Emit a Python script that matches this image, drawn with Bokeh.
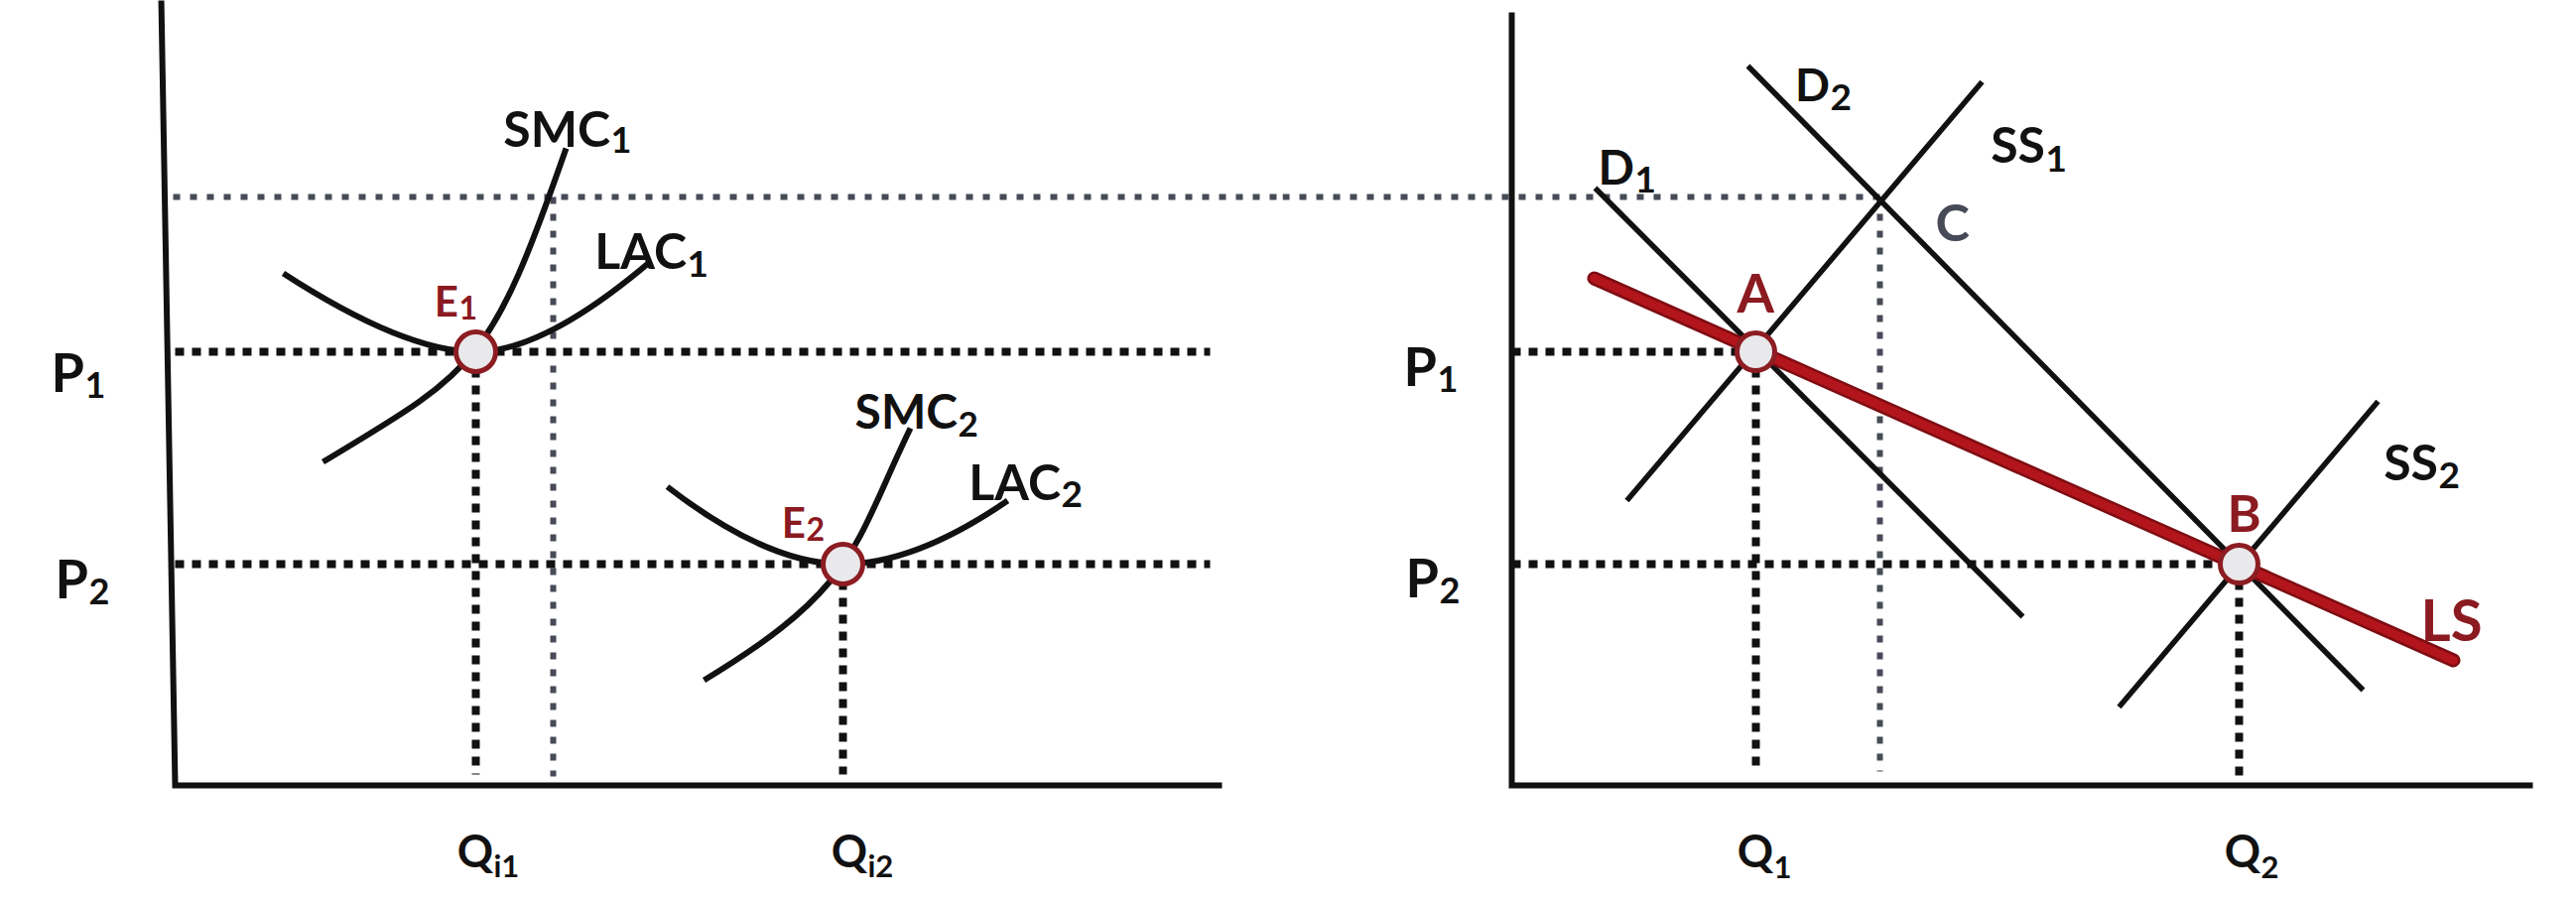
from bokeh.plotting import figure
from bokeh.layouts import row
from bokeh.models import Range1d
from bokeh.core.properties import value
from bokeh.embed import file_html
from bokeh.resources import INLINE

FONT = "Lato"
BLACK = "#111111"
RED = "#8b1a21"
GRAY = "#474b57"

# ---------------- Left panel: the firm ----------------
P1 = 4.37
P2 = 2.23
PC = 5.93          # price at point C (short-run)
QI1 = 3.03
QI2 = 6.73
QI_C = 3.81        # firm output at price PC on SMC1

# SMC curves (cubic Bezier: start, control 1, control 2, end)
smc_x0 = [1.49, 5.33]
smc_y0 = [3.26, 1.06]
smc_cx0 = [3.04, 6.87]
smc_cy0 = [4.19, 1.99]
smc_cx1 = [3.18, 6.83]
smc_cy1 = [4.24, 2.40]
smc_x1 = [3.94, 7.41]
smc_y1 = [6.42, 3.60]

# LAC curves (two quadratic branches meeting at the minimum point)
lac_min_x = [QI1, QI2]
lac_min_y = [P1, P2]
lac_left_x = [1.09, 4.96]
lac_left_y = [5.16, 3.01]
lac_left_cx = [2.31, 5.97]
lac_right_x = [4.79, 8.39]
lac_right_y = [5.28, 2.87]
lac_right_cx = [3.72, 7.46]

# ---------------- Right panel: the industry ----------------
Q1 = 2.46
Q2 = 7.33
QC = 3.71
d1_x = [0.84, 5.15]
d1_y = [6.02, 1.70]
d2_x = [2.38, 8.58]
d2_y = [7.25, 0.96]
ss1_x = [1.16, 4.74]
ss1_y = [2.87, 7.09]
ss2_x = [6.12, 8.73]
ss2_y = [0.79, 3.87]
ls_x = [0.83, 9.49]
ls_y = [5.11, 1.26]

# labels with subscripts: (main, sub, junction x, main baseline, sub baseline,
#                          main size px, sub size px, colour)
left_labels = [
    ("P", "1", -0.91, 4.17, 4.04, 54, 36, BLACK),
    ("P", "2", -0.87, 2.09, 1.96, 54, 36, BLACK),
    ("Q", "i1", 3.21, -0.65, -0.80, 45, 31, BLACK),
    ("Q", "i2", 6.98, -0.65, -0.80, 45, 31, BLACK),
    ("SMC", "1", 4.39, 6.63, 6.51, 50, 36, BLACK),
    ("LAC", "1", 5.16, 5.40, 5.26, 50, 37, BLACK),
    ("SMC", "2", 7.89, 3.78, 3.64, 48, 35, BLACK),
    ("LAC", "2", 8.93, 3.07, 2.94, 50, 37, BLACK),
    ("E", "1", 2.86, 4.89, 4.82, 42, 32, RED),
    ("E", "2", 6.36, 2.66, 2.59, 42, 32, RED),
]
right_labels = [
    ("P", "1", -0.75, 4.23, 4.10, 54, 36, BLACK),
    ("P", "2", -0.73, 2.10, 1.97, 54, 36, BLACK),
    ("Q", "1", 2.64, -0.65, -0.82, 45, 31, BLACK),
    ("Q", "2", 7.55, -0.65, -0.82, 45, 31, BLACK),
    ("D", "1", 1.24, 6.24, 6.11, 48, 37, BLACK),
    ("D", "2", 3.21, 7.07, 6.94, 46, 37, BLACK),
    ("SS", "1", 5.38, 6.47, 6.32, 50, 37, BLACK),
    ("SS", "2", 9.34, 3.27, 3.13, 50, 37, BLACK),
]
right_single = [
    ("C", 4.27, 5.69, 52, GRAY),
    ("A", 2.27, 4.97, 54, RED),
    ("B", 7.21, 2.76, 52, RED),
    ("LS", 9.16, 1.68, 58, RED),
]

DOT = "9 8"
GDOT = "7 10"


def make_fig(width, xr, yr):
    p = figure(width=width, height=892, x_range=Range1d(*xr), y_range=Range1d(*yr),
               output_backend="svg", toolbar_location=None,
               x_axis_location=None, y_axis_location=None, min_border=0)
    p.grid.visible = False
    p.outline_line_color = None
    p.background_fill_color = "white"
    p.border_fill_color = "white"
    return p


def put_text(p, t, x, y, s, c, align):
    p.text(x=[x], y=[y], text=[t], text_font=value(FONT), text_font_style="bold",
           text_font_size=f"{s}px", text_color=c, text_baseline="alphabetic",
           text_align=align)


def add_sub_labels(p, items):
    for main, sub, jx, by, sy, ms, ss, c in items:
        put_text(p, main, jx - 0.005, by, ms, c, "right")
        put_text(p, sub, jx, sy, ss, c, "left")


# ---------- left figure ----------
pl = make_fig(1292, (-1.76, 11.16), (-1.01, 7.91))
pl.line([-0.14, 0.0, 10.55], [7.93, 0.0, 0.0], line_color=BLACK, line_width=6, line_join="miter")
pl.line([-0.02, pl.x_range.end], [PC, PC], line_color=GRAY, line_width=6, line_dash=GDOT)
pl.line([QI_C, QI_C], [PC, 0.09], line_color=GRAY, line_width=6, line_dash=GDOT)
for pp in (P1, P2):
    pl.line([0.0, 10.43], [pp, pp], line_color=BLACK, line_width=8, line_dash=DOT)
pl.line([QI1, QI1], [P1, 0.11], line_color=BLACK, line_width=8, line_dash=DOT)
pl.line([QI2, QI2], [P2, 0.11], line_color=BLACK, line_width=8, line_dash=DOT)
pl.quadratic(x0=lac_left_x, y0=lac_left_y, x1=lac_min_x, y1=lac_min_y,
             cx=lac_left_cx, cy=lac_min_y, line_color=BLACK, line_width=6)
pl.quadratic(x0=lac_min_x, y0=lac_min_y, x1=lac_right_x, y1=lac_right_y,
             cx=lac_right_cx, cy=lac_min_y, line_color=BLACK, line_width=6)
pl.bezier(x0=smc_x0, y0=smc_y0, x1=smc_x1, y1=smc_y1, cx0=smc_cx0, cy0=smc_cy0,
          cx1=smc_cx1, cy1=smc_cy1, line_color=BLACK, line_width=6)
pl.scatter(x=lac_min_x, y=lac_min_y, size=40, marker="circle",
           fill_color="#e9e9eb", line_color="#8c1d22", line_width=5)
add_sub_labels(pl, left_labels)

# ---------- right figure ----------
pr = make_fig(1288, (-2.31, 10.57), (-1.01, 7.91))
pr.line([0.0, 0.0, 10.29], [7.79, 0.0, 0.0], line_color=BLACK, line_width=6, line_join="miter")
pr.line([pr.x_range.start, QC], [PC, PC], line_color=GRAY, line_width=6, line_dash=GDOT)
pr.line([QC, QC], [PC, 0.14], line_color=GRAY, line_width=6, line_dash=GDOT)
pr.line([0.0, Q1], [P1, P1], line_color=BLACK, line_width=8, line_dash=DOT)
pr.line([0.0, Q2], [P2, P2], line_color=BLACK, line_width=8, line_dash=DOT)
pr.line([Q1, Q1], [P1, 0.14], line_color=BLACK, line_width=8, line_dash=DOT)
pr.line([Q2, Q2], [P2, 0.09], line_color=BLACK, line_width=8, line_dash=DOT)
for xs, ys in ((d1_x, d1_y), (d2_x, d2_y), (ss1_x, ss1_y), (ss2_x, ss2_y)):
    pr.line(xs, ys, line_color=BLACK, line_width=5.5)
pr.line(ls_x, ls_y, line_color="#7e0d13", line_width=14, line_cap="round")
pr.line(ls_x, ls_y, line_color="#b3151c", line_width=9, line_cap="round")
pr.scatter(x=[Q1, Q2], y=[P1, P2], size=38, marker="circle",
           fill_color="#e9e9eb", line_color="#8c1d22", line_width=5)
add_sub_labels(pr, right_labels)
for t, x, y, s, c in right_single:
    put_text(pr, t, x, y, s, c, "left")

layout = row(pl, pr, spacing=0)
open("out.html", "w").write(file_html(layout, INLINE))
